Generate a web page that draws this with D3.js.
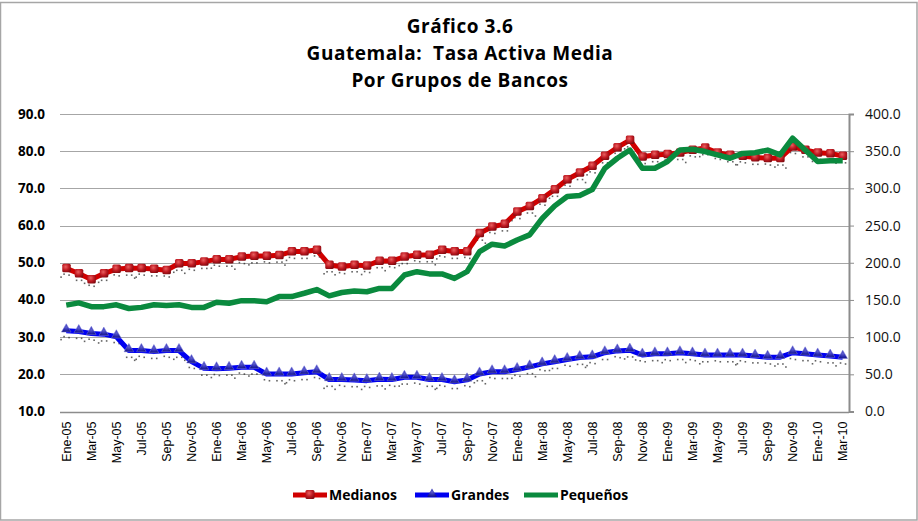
<!DOCTYPE html>
<html><head><meta charset="utf-8">
<script src="https://cdn.jsdelivr.net/npm/d3@7"></script>
<style>
body{margin:0;background:#fff;}
svg{display:block;font-family:"Open Sans",sans-serif;}
</style></head>
<body><svg id="c" width="918" height="521"></svg>
<script>
const months = ["Ene-05","Feb-05","Mar-05","Abr-05","May-05","Jun-05","Jul-05","Ago-05","Sep-05","Oct-05","Nov-05","Dic-05",
"Ene-06","Feb-06","Mar-06","Abr-06","May-06","Jun-06","Jul-06","Ago-06","Sep-06","Oct-06","Nov-06","Dic-06",
"Ene-07","Feb-07","Mar-07","Abr-07","May-07","Jun-07","Jul-07","Ago-07","Sep-07","Oct-07","Nov-07","Dic-07",
"Ene-08","Feb-08","Mar-08","Abr-08","May-08","Jun-08","Jul-08","Ago-08","Sep-08","Oct-08","Nov-08","Dic-08",
"Ene-09","Feb-09","Mar-09","Abr-09","May-09","Jun-09","Jul-09","Ago-09","Sep-09","Oct-09","Nov-09","Dic-09",
"Ene-10","Feb-10","Mar-10"];
// left axis
const medianos = [48.5,47.1,45.5,47.1,48.3,48.5,48.5,48.3,48.0,49.8,49.8,50.3,
50.9,50.9,51.6,51.8,51.8,52.0,53.0,53.0,53.4,49.4,48.9,49.4,
49.2,50.5,50.5,51.6,52.1,52.1,53.4,53.0,53.0,57.9,59.7,60.4,
63.7,65.2,67.3,69.7,72.4,74.2,76.0,78.7,81.0,83.0,78.5,79.0,
79.2,79.6,80.3,80.9,79.6,79.0,78.7,78.3,78.1,78.1,81.2,80.3,
79.6,79.4,78.7];
const grandes = [31.7,31.5,31.0,30.8,30.1,26.4,26.4,26.1,26.4,26.4,23.4,21.6,
21.5,21.6,21.9,21.9,20.1,20.1,20.1,20.4,20.7,18.6,18.6,18.5,
18.3,18.7,18.6,19.2,19.2,18.6,18.6,18.0,18.5,20.1,20.7,20.7,
21.3,22.0,22.8,23.4,24.0,24.5,24.7,25.8,26.3,26.5,25.2,25.5,
25.5,25.8,25.5,25.2,25.2,25.2,25.2,24.9,24.6,24.6,25.8,25.5,
25.2,24.9,24.6];
// right axis
const pequenos = [143,146,141,141,143.5,138.5,140,143.5,142.5,143.5,140,140,
147,145.5,149,149,147.5,154.5,154.5,159,164,155.5,160,162,
161,165.5,165.5,183.5,188,185,185,179,188,215,225,222.5,
230.5,237.5,259.5,276.5,289,290.5,298.5,327,340.5,351.5,327,327,
336,351.5,352.5,349.5,345,340.5,347,348,351.5,345,367.5,351.5,
336,337,337];
const leftTicks = [10,20,30,40,50,60,70,80,90];
const rightTicks = [0,50,100,150,200,250,300,350,400];
const titleLines = ["Gráfico 3.6","Guatemala:  Tasa Activa Media","Por Grupos de Bancos"];
const seriesNames = ["Medianos","Grandes","Pequeños"];

const svg = d3.select("#c");
const W=918,H=521;
const x0=60,x1=849,yTop=114,yBot=411.5;
const x = d3.scalePoint().domain(months).range([x0,x1]).padding(0.5);
const yL = d3.scaleLinear().domain([10,90]).range([yBot,yTop]);
const yR = d3.scaleLinear().domain([0,400]).range([yBot,yTop]);

// defs
const defs = svg.append("defs");
const rg = defs.append("radialGradient").attr("id","redG").attr("cx","40%").attr("cy","35%").attr("r","70%");
rg.append("stop").attr("offset","0%").attr("stop-color","#e86060");
rg.append("stop").attr("offset","55%").attr("stop-color","#c01a22");
rg.append("stop").attr("offset","100%").attr("stop-color","#820a10");
const bg = defs.append("radialGradient").attr("id","blueG").attr("cx","50%").attr("cy","40%").attr("r","70%");
bg.append("stop").attr("offset","0%").attr("stop-color","#6060d0");
bg.append("stop").attr("offset","60%").attr("stop-color","#2424a8");
bg.append("stop").attr("offset","100%").attr("stop-color","#141470");

// frame
svg.append("rect").attr("x",0.5).attr("y",2.5).attr("width",W-1.5).attr("height",H-3.5)
  .attr("fill","#fff").attr("stroke","#a6a6a6").attr("stroke-width",1.5);

// title
svg.append("g").selectAll("text").data(titleLines).join("text")
  .attr("x",460).attr("y",(d,i)=>33+i*27).attr("text-anchor","middle")
  .attr("font-size",19).attr("font-weight","bold").attr("fill","#000")
  .attr("letter-spacing",0.55)
  .attr("xml:space","preserve").style("white-space","pre").text(d=>d);

// gridlines
svg.append("g").selectAll("line").data(leftTicks).join("line")
  .attr("x1",x0).attr("x2",x1).attr("y1",d=>Math.round(yL(d))+0.5).attr("y2",d=>Math.round(yL(d))+0.5)
  .attr("stroke",d=>d===10?"#8c8c8c":"#a6a6a6").attr("stroke-width",d=>d===10?1.5:1);

// left axis labels
svg.append("g").selectAll("text").data(leftTicks).join("text")
  .attr("x",45).attr("y",d=>yL(d)+4.5).attr("text-anchor","end")
  .attr("font-size",13.5).attr("font-weight","bold").attr("fill","#000")
  .text(d=>d3.format(".1f")(d));

// right axis
const ra = svg.append("g").attr("transform",`translate(${x1},0)`)
  .call(d3.axisRight(yR).tickValues(rightTicks).tickSize(5).tickPadding(11).tickFormat(d3.format(".1f")));
ra.select(".domain").attr("stroke","#8c8c8c").attr("stroke-width",2);
ra.selectAll(".tick line").attr("stroke","#8c8c8c");
ra.selectAll(".tick text").attr("font-size",14).attr("font-family","Open Sans, sans-serif").attr("fill","#111");

// x labels
const xLabels = months.filter((d,i)=>i%2===0);
svg.append("g").selectAll("text").data(xLabels).join("text")
  .attr("transform",d=>`translate(${x(d)+4.5},${yBot+10}) rotate(-90)`)
  .attr("text-anchor","end").attr("font-size",12.5).attr("fill","#000")
  .attr("font-family","Liberation Sans, Arial, sans-serif").text(d=>d);

// series
function shadowDots(g,data,yS){
  const pts=[];
  data.forEach((v,i)=>{const cx=x(months[i]),cy=yS(v);
    pts.push([cx-3,cy+5+(i%2)]);pts.push([cx+2,cy+6]);if(i%3===0)pts.push([cx-6,cy+8]);if(i%4===1)pts.push([cx+5,cy+9]);});
  g.append("g").selectAll("rect").data(pts).join("rect")
    .attr("x",p=>p[0]).attr("y",p=>p[1]).attr("width",1.6).attr("height",1.6).attr("fill","#222").attr("opacity",0.7);
}
const lineL = d3.line().x((d,i)=>x(months[i])).y(d=>yL(d));
const lineR = d3.line().x((d,i)=>x(months[i])).y(d=>yR(d));

// Medianos
const gm = svg.append("g");
shadowDots(gm,medianos,yL);
gm.append("path").datum(medianos).attr("d",lineL).attr("fill","none").attr("stroke","#d00000").attr("stroke-width",5).attr("stroke-linejoin","round");
gm.append("g").selectAll("rect").data(medianos).join("rect")
  .attr("x",(d,i)=>x(months[i])-4).attr("y",d=>yL(d)-4.5).attr("width",8.5).attr("height",8.5).attr("rx",1.5)
  .attr("fill","url(#redG)");

// Grandes
const gg = svg.append("g");
shadowDots(gg,grandes,yL);
gg.append("path").datum(grandes).attr("d",lineL).attr("fill","none").attr("stroke","#0000f0").attr("stroke-width",5).attr("stroke-linejoin","round");
const tri = d3.symbol().type(d3.symbolTriangle).size(40);
gg.append("g").selectAll("path").data(grandes).join("path")
  .attr("transform",(d,i)=>`translate(${x(months[i])},${yL(d)-1.5})`).attr("d",tri)
  .attr("fill","url(#blueG)").attr("stroke","#7a7ae0").attr("stroke-width",0.5);

// Pequeños
svg.append("path").datum(pequenos).attr("d",lineR).attr("fill","none").attr("stroke","#0a8a3e").attr("stroke-width",5.5).attr("stroke-linejoin","round");

// legend
const leg = svg.append("g");
const legItems = [{n:seriesNames[0],x:293,c:"#d00000",m:"sq"},{n:seriesNames[1],x:415,c:"#0000f0",m:"tri"},{n:seriesNames[2],x:524,c:"#0a8a3e",m:null}];
const ly=495;
legItems.forEach(it=>{
  leg.append("line").attr("x1",it.x).attr("x2",it.x+34).attr("y1",ly).attr("y2",ly).attr("stroke",it.c).attr("stroke-width",5);
  if(it.m==="sq") leg.append("rect").attr("x",it.x+12.5).attr("y",ly-5).attr("width",9).attr("height",9).attr("rx",1.5).attr("fill","url(#redG)");
  if(it.m==="tri") leg.append("path").attr("transform",`translate(${it.x+17},${ly-1})`).attr("d",tri).attr("fill","url(#blueG)");
  leg.append("text").attr("x",it.x+36).attr("y",ly+5).attr("font-size",14).attr("font-weight","bold").attr("fill","#000").text(it.n);
});
</script></body></html>
